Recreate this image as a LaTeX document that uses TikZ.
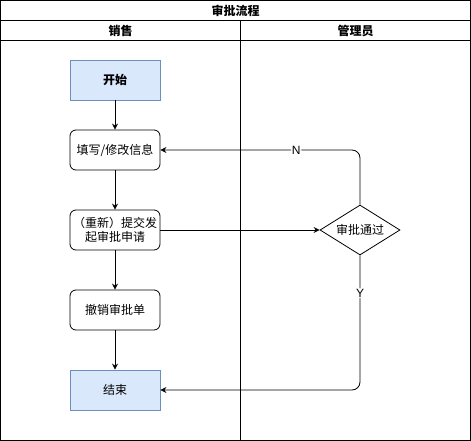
\documentclass[tikz,border=0pt]{standalone}
\usepackage{fontspec}
\setmainfont{Noto Sans CJK SC}
\newfontfamily\latinfont{Liberation Sans}
\usetikzlibrary{shapes.geometric,arrows.meta}
\definecolor{bluefill}{HTML}{DAE8FC}
\definecolor{blueline}{HTML}{6C8EBF}
\tikzset{
  x=1pt,y=-1pt,
  termbox/.style={draw=blueline,line width=0.8pt,fill=bluefill,minimum width=90pt,minimum height=40pt,inner sep=0pt,font=\fontsize{12}{14}\selectfont\bfseries},
  procbox/.style={draw,line width=0.8pt,rounded corners=6pt,minimum width=90pt,minimum height=40pt,inner sep=0pt,align=center,font=\fontsize{12}{14}\selectfont},
  decbox/.style={draw,line width=0.8pt,diamond,aspect=1.6,minimum width=80pt,minimum height=50pt,inner sep=0pt,font=\fontsize{12}{14}\selectfont},
  hdr/.style={font=\fontsize{12}{14}\selectfont\bfseries},
  arr/.style={-{Stealth[length=6pt,width=6pt,inset=2pt]},line width=0.8pt},
  lbl/.style={fill=white,inner sep=1pt,font=\latinfont\fontsize{12}{14}\selectfont},
}
\begin{document}
\begin{tikzpicture}
\useasboundingbox (0,0) rectangle (471,441);
% frame
\draw[line width=0.8pt] (0.5,0.5) rectangle (470.5,440.5);
\draw[line width=0.8pt] (0.5,20.5) -- (470.5,20.5);
\draw[line width=0.8pt] (0.5,40.5) -- (470.5,40.5);
\draw[line width=0.8pt] (240.5,20.5) -- (240.5,440.5);
\node[hdr] (title) at (235.5,10.5) {审批流程};
\node[hdr] (laneA) at (120.5,30.5) {销售};
\node[hdr] (laneB) at (355.5,30.5) {管理员};
% nodes
\node[termbox] (start) at (115,80) {开始};
\node[procbox] (fill) at (115,150) {填写/修改信息};
\node[procbox] (submit) at (115,230) {（重新）提交发\\起审批申请};
\node[procbox] (cancel) at (115,310) {撤销审批单};
\node[termbox,font=\fontsize{12}{14}\selectfont] (end) at (115,390) {结束};
\node[decbox] (dec) at (360,230) {审批通过};
% edges
\draw[arr] (start) -- (fill);
\draw[arr] (fill) -- (submit);
\draw[arr] (submit) -- (cancel);
\draw[arr] (cancel) -- (end);
\draw[arr] (submit) -- (dec);
\draw[arr,rounded corners=8pt] (dec.north) |- (fill.east) node[pos=0.66,lbl] {N};
\draw[arr,rounded corners=8pt] (dec.south) |- (end.east) node[pos=0.14,lbl] {Y};
\end{tikzpicture}
\end{document}
